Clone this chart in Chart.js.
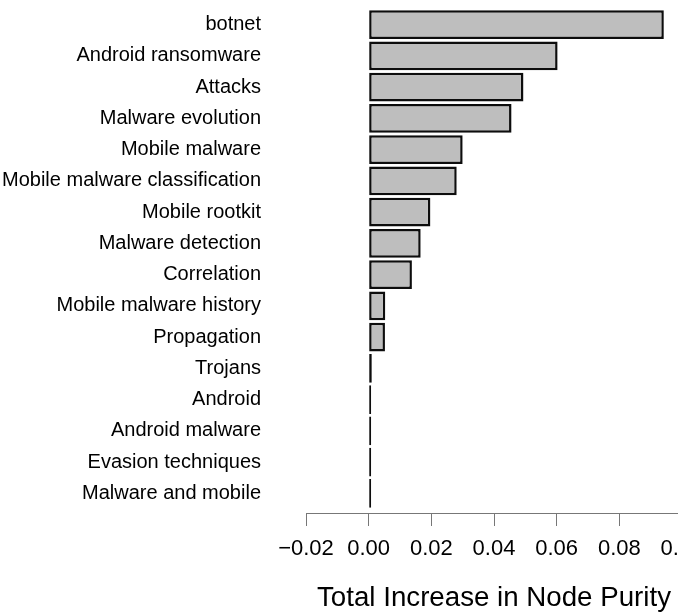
<!DOCTYPE html>
<html>
<head>
<meta charset="utf-8">
<script src="https://cdn.jsdelivr.net/npm/chart.js@4"></script>
<style>
  html, body { margin: 0; padding: 0; background: #fff; overflow: hidden; }
  #wrap { width: 720px; height: 616px; }
</style>
</head>
<body>
<div id="wrap"><canvas id="purityChart" width="720" height="616"></canvas></div>
<script>
const terms = [
  "botnet",
  "Android ransomware",
  "Attacks",
  "Malware evolution",
  "Mobile malware",
  "Mobile malware classification",
  "Mobile rootkit",
  "Malware detection",
  "Correlation",
  "Mobile malware history",
  "Propagation",
  "Trojans",
  "Android",
  "Android malware",
  "Evasion techniques",
  "Malware and mobile",
];
const purity = [0.0942, 0.0603, 0.0494, 0.0456, 0.0300, 0.0281, 0.0197, 0.0166,
  0.0138, 0.0053, 0.0052, 0.0010, 0.0008, 0.0008, 0.0008, 0.0008];
const xTicks = [-0.02, 0.00, 0.02, 0.04, 0.06, 0.08, 0.10];

const font = "'Liberation Sans', Arial, sans-serif";

window.onload = function () {
  const ctx = document.getElementById("purityChart").getContext("2d");

  new Chart(ctx, {
    type: "bar",
    data: {
      labels: terms,
      datasets: [
        {
          label: "Total Increase in Node Purity",
          data: purity,
          backgroundColor: "#bebebe",
          borderColor: "#0d0d0d",
          borderWidth: 2.5,
          borderSkipped: false,
          barPercentage: 0.92,
          categoryPercentage: 1.0,
          xAxisID: "x",
        },
      ],
    },
    options: {
      indexAxis: "y",
      responsive: false,
      animation: false,
      layout: { padding: { top: 9, right: 38, bottom: 0, left: 0 } },
      plugins: {
        legend: { display: false },
        tooltip: { enabled: false },
      },
      scales: {
        y: {
          type: "category",
          position: "left",
          // hidden grid, the tick length just spaces the labels off the bars
          grid: { display: false, drawTicks: true, tickLength: 45 },
          border: { display: false },
          ticks: {
            padding: 0,
            color: "#000",
            font: { family: font, size: 20 },
          },
          afterFit: (s) => {
            s.width = 306;
            s.paddingTop = 0;
            s.paddingBottom = 0;
          },
        },
        gap: {
          type: "linear",
          position: "bottom",
          weight: 0,
          grid: { display: false, drawTicks: false },
          border: { display: false },
          ticks: { display: false },
          afterFit: (s) => { s.height = 4; },
        },
        x: {
          type: "linear",
          position: "bottom",
          weight: 1,
          min: -0.02,
          max: 0.1,
          afterBuildTicks: (s) => { s.ticks = xTicks.map((v) => ({ value: v })); },
          grid: {
            drawOnChartArea: false,
            drawTicks: true,
            tickLength: 13,
            color: "#777",
          },
          border: { display: true, color: "#777", width: 1 },
          ticks: {
            autoSkip: false,
            maxRotation: 0,
            padding: 10,
            color: "#000",
            font: { family: font, size: 22 },
            // R prints a real minus sign
            callback: (v) => Number(v).toFixed(2).replace("-", "\u2212"),
          },
          title: {
            display: true,
            text: "Total Increase in Node Purity",
            color: "#000",
            font: { family: font, size: 27.7 },
            padding: { top: 0, bottom: 1 },
          },
          afterFit: (s) => { s.height = 103; },
        },
      },
    },
  });
};
</script>
</body>
</html>
